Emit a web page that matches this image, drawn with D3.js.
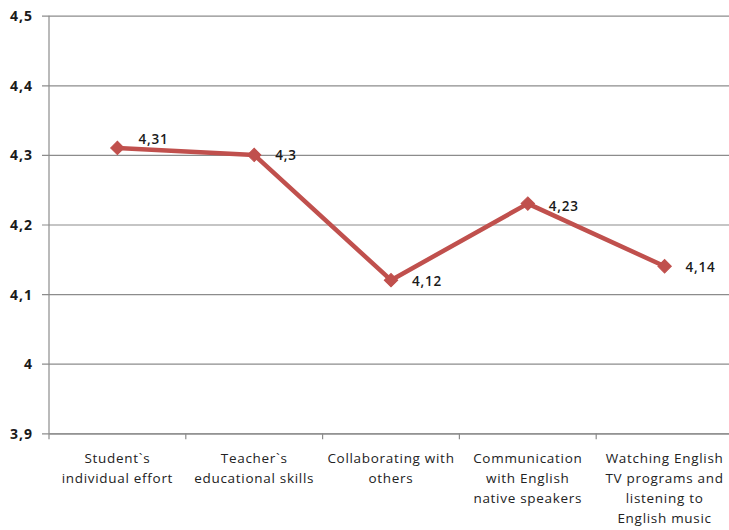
<!DOCTYPE html>
<html>
<head>
<meta charset="utf-8">
<script src="https://cdn.jsdelivr.net/npm/d3@7/dist/d3.min.js"></script>
<style>
  html, body { margin: 0; padding: 0; background: #fff; }
  svg { display: block; }
</style>
</head>
<body>
<svg id="chart" width="729" height="530"></svg>
<script>
// Mean scores per factor
const categories = [
  ["Student`s", "individual effort"],
  ["Teacher`s", "educational skills"],
  ["Collaborating with", "others"],
  ["Communication", "with English", "native speakers"],
  ["Watching English", "TV programs and", "listening to", "English music"]
];
const values = [4.31, 4.3, 4.12, 4.23, 4.14];
const valueLabels = ["4,31", "4,3", "4,12", "4,23", "4,14"];
const yTicks = [3.9, 4.0, 4.1, 4.2, 4.3, 4.4, 4.5];
const yTickLabels = ["3,9", "4", "4,1", "4,2", "4,3", "4,4", "4,5"];

(function draw() {
  const svg = d3.select("#chart");
  const plotLeft = 49, plotRight = 733, plotTop = 15.7, plotBottom = 433.3;
  const lineColor = "#c0504d";
  const gridColor = "#8c8c8c";

  const x = d3.scaleBand().domain(d3.range(values.length)).range([plotLeft, plotRight]).padding(0);
  const y = d3.scaleLinear().domain([3.9, 4.5]).range([plotBottom, plotTop]);

  // Horizontal gridlines with short outer ticks
  const yAxis = d3.axisLeft(y)
    .tickValues(yTicks)
    .tickSize(-(plotRight - plotLeft))
    .tickSizeOuter(0)
    .tickFormat((d, i) => yTickLabels[i]);

  const gy = svg.append("g").attr("transform", `translate(${plotLeft},0)`).call(yAxis);
  gy.select(".domain").remove();
  gy.selectAll(".tick line")
    .attr("x1", -7)
    .attr("stroke", gridColor)
    .attr("stroke-width", 1.2);
  gy.selectAll(".tick text")
    .attr("x", -16)
    .attr("dy", "0.35em")
    .attr("fill", "#1a1a1a")
    .style("font-family", "'Open Sans', sans-serif")
    .style("font-size", "14px")
    .style("font-weight", "700")
    .style("letter-spacing", "1px");

  // Vertical value axis line
  svg.append("line")
    .attr("x1", plotLeft).attr("x2", plotLeft)
    .attr("y1", plotTop).attr("y2", plotBottom)
    .attr("stroke", gridColor).attr("stroke-width", 1.2);

  // Category axis
  const xAxis = d3.axisBottom(x).tickSize(0).tickFormat("");
  const gx = svg.append("g").attr("transform", `translate(0,${plotBottom})`).call(xAxis);
  gx.select(".domain").attr("stroke", gridColor).attr("stroke-width", 1.2);

  // Category boundary tick marks
  const boundaries = d3.range(values.length).map(i => x(i)).concat([x(values.length - 1) + x.bandwidth()]);
  svg.append("g").selectAll("line").data(boundaries).join("line")
    .attr("x1", d => d).attr("x2", d => d)
    .attr("y1", plotBottom).attr("y2", plotBottom + 6)
    .attr("stroke", gridColor).attr("stroke-width", 1.2);

  const cx = i => x(i) + x.bandwidth() / 2;

  // Category labels (wrapped)
  const catG = svg.append("g")
    .style("font-family", "'Open Sans', sans-serif")
    .style("font-size", "13.5px")
    .style("letter-spacing", "0.7px")
    .attr("fill", "#222");
  categories.forEach((lines, i) => {
    const t = catG.append("text")
      .attr("text-anchor", "middle")
      .attr("x", cx(i))
      .attr("y", 463);
    lines.forEach((ln, j) => {
      t.append("tspan")
        .attr("x", cx(i))
        .attr("dy", j === 0 ? 0 : 20)
        .text(ln);
    });
  });

  // Series line
  svg.append("path")
    .datum(values)
    .attr("fill", "none")
    .attr("stroke", lineColor)
    .attr("stroke-width", 4.5)
    .attr("stroke-linejoin", "round")
    .attr("d", d3.line().x((d, i) => cx(i)).y(d => y(d)));

  // Diamond markers (squares turned 45 degrees)
  svg.append("g").selectAll("path").data(values).join("path")
    .attr("transform", (d, i) => `translate(${cx(i)},${y(d)}) rotate(45)`)
    .attr("d", d3.symbol(d3.symbolSquare, 90)())
    .attr("fill", lineColor)
    .attr("stroke", lineColor)
    .attr("stroke-width", 1);

  // Value labels to the right of each marker
  const labelNudge = [[21, -9], [21, 0], [21, 1], [21, 3], [21, 1]];
  svg.append("g").selectAll("text").data(values).join("text")
    .attr("x", (d, i) => cx(i) + labelNudge[i][0])
    .attr("y", (d, i) => y(d) + labelNudge[i][1])
    .attr("dy", "0.35em")
    .attr("fill", "#1a1a1a")
    .style("font-family", "'Open Sans', sans-serif")
    .style("font-size", "13.5px")
    .style("font-weight", "600")
    .style("letter-spacing", "0.8px")
    .text((d, i) => valueLabels[i]);
})();
</script>
</body>
</html>
